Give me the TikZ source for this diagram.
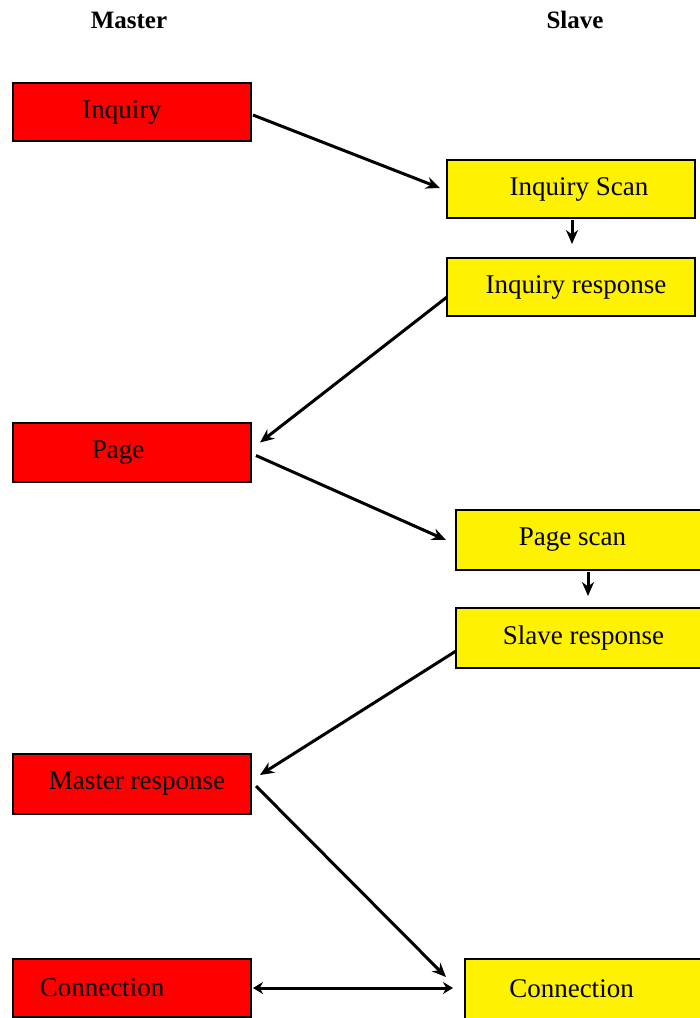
\documentclass[tikz,border=0pt]{standalone}
\usepackage{fontspec}
\setmainfont{Liberation Serif}
\usetikzlibrary{arrows.meta,calc}
\begin{document}
\begin{tikzpicture}[x=0.5pt,y=-0.5pt,
 box/.style={draw=black,line width=1.2pt,minimum width=119pt,minimum height=29pt,inner sep=0pt,outer sep=0pt},
 mbox/.style={box,fill=red},
 sbox/.style={box,fill=yellow},
 lbl/.style={font=\fontsize{13.5}{16}\selectfont,inner sep=0pt},
 hdr/.style={font=\bfseries\fontsize{12.5}{15}\selectfont,inner sep=0pt},
 conn/.style={line width=1.5pt,-{Stealth[length=7pt,width=6pt]}},
]
\useasboundingbox (0,0) rectangle (700,1018);
% headers
\node[hdr] (hmaster) at (129,20) {Master};
\node[hdr] (hslave) at (575,20) {Slave};
% boxes
\node[mbox,label={[lbl,xshift=-5pt]center:Inquiry}] (inq) at (132,112) {};
\node[sbox,minimum width=124pt,label={[lbl,xshift=4pt]center:Inquiry Scan}] (iscan) at (571,189) {};
\node[sbox,minimum width=124pt,label={[lbl,xshift=2.5pt]center:Inquiry response}] (iresp) at (571,287) {};
\node[mbox,minimum height=29.5pt,label={[lbl,xshift=-7pt]center:Page}] (page) at (132,452.5) {};
\node[sbox,minimum width=123.5pt,minimum height=30pt,label={[lbl,xshift=-3.5pt]center:Page scan}] (pscan) at (579.5,540) {};
\node[sbox,minimum width=123.5pt,minimum height=30pt,label={[lbl,xshift=2pt]center:Slave response}] (sresp) at (579.5,638) {};
\node[mbox,minimum height=30pt,label={[lbl,xshift=2.5pt]center:Master response}] (mresp) at (132,784) {};
\node[mbox,label={[lbl,xshift=-15pt]center:Connection}] (connm) at (132,988) {};
\node[sbox,minimum width=118.5pt,minimum height=30pt,label={[lbl,xshift=-6pt]center:Connection}] (conns) at (583.5,989) {};
% connectors
\draw[conn] ($(inq.east)+(2,3)$) -- ($(iscan.west)+(-7,-1)$);
\draw[conn] ($(iscan.south)+(1,2)$) -- ($(iresp.north)+(1,-14)$);
\draw[conn] ($(iresp.west)+(0,10)$) -- ($(page.east)+(9,-10)$);
\draw[conn] ($(page.east)+(5,3)$) -- ($(pscan.west)+(-10,0)$);
\draw[conn] ($(pscan.south)+(8.5,2)$) -- ($(sresp.north)+(8.5,-12)$);
\draw[conn] ($(sresp.west)+(0,13)$) -- ($(mresp.east)+(9,-9)$);
\draw[conn] ($(mresp.east)+(5,2)$) -- ($(conns.west)+(-19,-12)$);
\draw[line width=1.5pt,{Stealth[length=5pt,width=6pt]}-{Stealth[length=5pt,width=6pt]}] ($(connm.east)+(2,0)$) -- ($(conns.west)+(-12,-1)$);
\end{tikzpicture}
\end{document}
